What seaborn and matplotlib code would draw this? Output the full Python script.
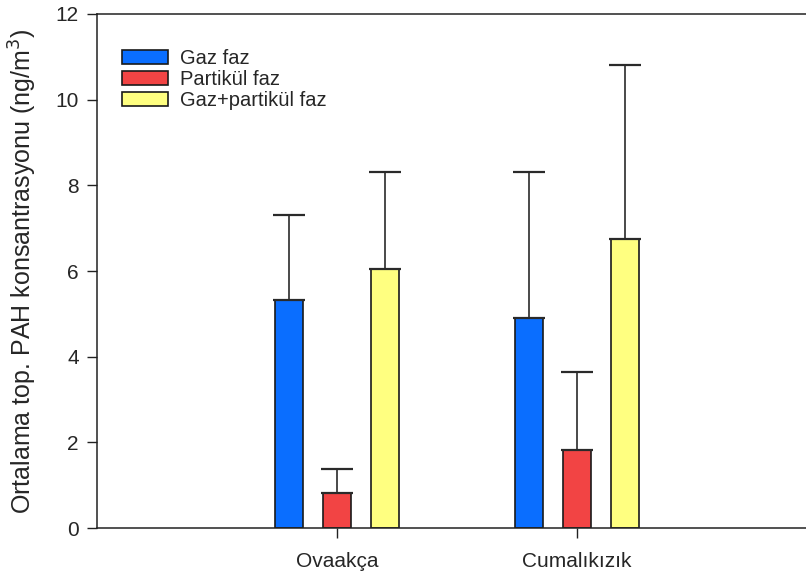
import numpy as np
import pandas as pd
import matplotlib
matplotlib.use("Agg")
import matplotlib.pyplot as plt
import seaborn as sns

sites = ["Ovaakça", "Cumalıkızık"]
phases = ["Gaz faz", "Partikül faz", "Gaz+partikül faz"]
gas_mean = [5.32, 4.91]
particle_mean = [0.81, 1.82]
total_mean = [6.05, 6.75]
gas_sd = [1.99, 3.41]
particle_sd = [0.57, 1.83]
total_sd = [2.26, 4.06]

colors = ["#0A6EFF", "#F24444", "#FFFF80"]

df = pd.DataFrame({
    "site": sites * 3,
    "phase": [p for p in phases for _ in sites],
    "value": gas_mean + particle_mean + total_mean,
    "sd": gas_sd + particle_sd + total_sd,
})

sns.set_style("ticks")
plt.rcParams["font.family"] = ["Liberation Sans", "DejaVu Sans"]

fig = plt.figure(figsize=(8.06, 5.73), dpi=100)
ax = fig.add_axes([0.1203, 0.0785, 0.8797, 0.8971])

sns.barplot(data=df, x="site", y="value", hue="phase", hue_order=phases,
            order=sites, palette=colors, saturation=1, width=0.6, gap=0.4,
            edgecolor="#1a1a1a", linewidth=1.2, errorbar=None, ax=ax)

# upward-only error bars on each bar (patches come out grouped by phase)
ordered = df.sort_values("phase", key=lambda s: s.map(phases.index), kind="stable")
for patch, (_, row) in zip(ax.patches[:len(df)], ordered.iterrows()):
    xc = patch.get_x() + patch.get_width() / 2
    h = patch.get_height()
    ax.errorbar(xc, h, yerr=[[0], [row["sd"]]], fmt="none", ecolor="#2a2a2a",
                elinewidth=1.2, capsize=11.5, capthick=1.6, zorder=1)

ax.set_xlim(-1, 1.954)
ax.set_ylim(0, 12)
ax.set_yticks(range(0, 13, 2))
ax.set_xlabel("")
ax.set_ylabel("Ortalama top. PAH konsantrasyonu (ng/m$^3$)", fontsize=18, labelpad=12)
ax.tick_params(axis="both", labelsize=15, length=7, width=1, color="#222222",
               direction="out")
ax.tick_params(axis="x", pad=10)
ax.tick_params(axis="y", pad=6)

for side in ["left", "top", "bottom"]:
    ax.spines[side].set_visible(True)
    ax.spines[side].set_color("#222222")
    ax.spines[side].set_linewidth(1.1)
ax.spines["right"].set_visible(False)

leg = ax.legend(loc="upper left", bbox_to_anchor=(0.024, 0.947), frameon=False,
                fontsize=14.5, handlelength=2.3, handleheight=0.7,
                handletextpad=0.6, labelspacing=0.1, borderaxespad=0)
for h in leg.legend_handles:
    h.set_edgecolor("#1a1a1a")
    h.set_linewidth(1.2)

fig.savefig("out.png", dpi=100)
